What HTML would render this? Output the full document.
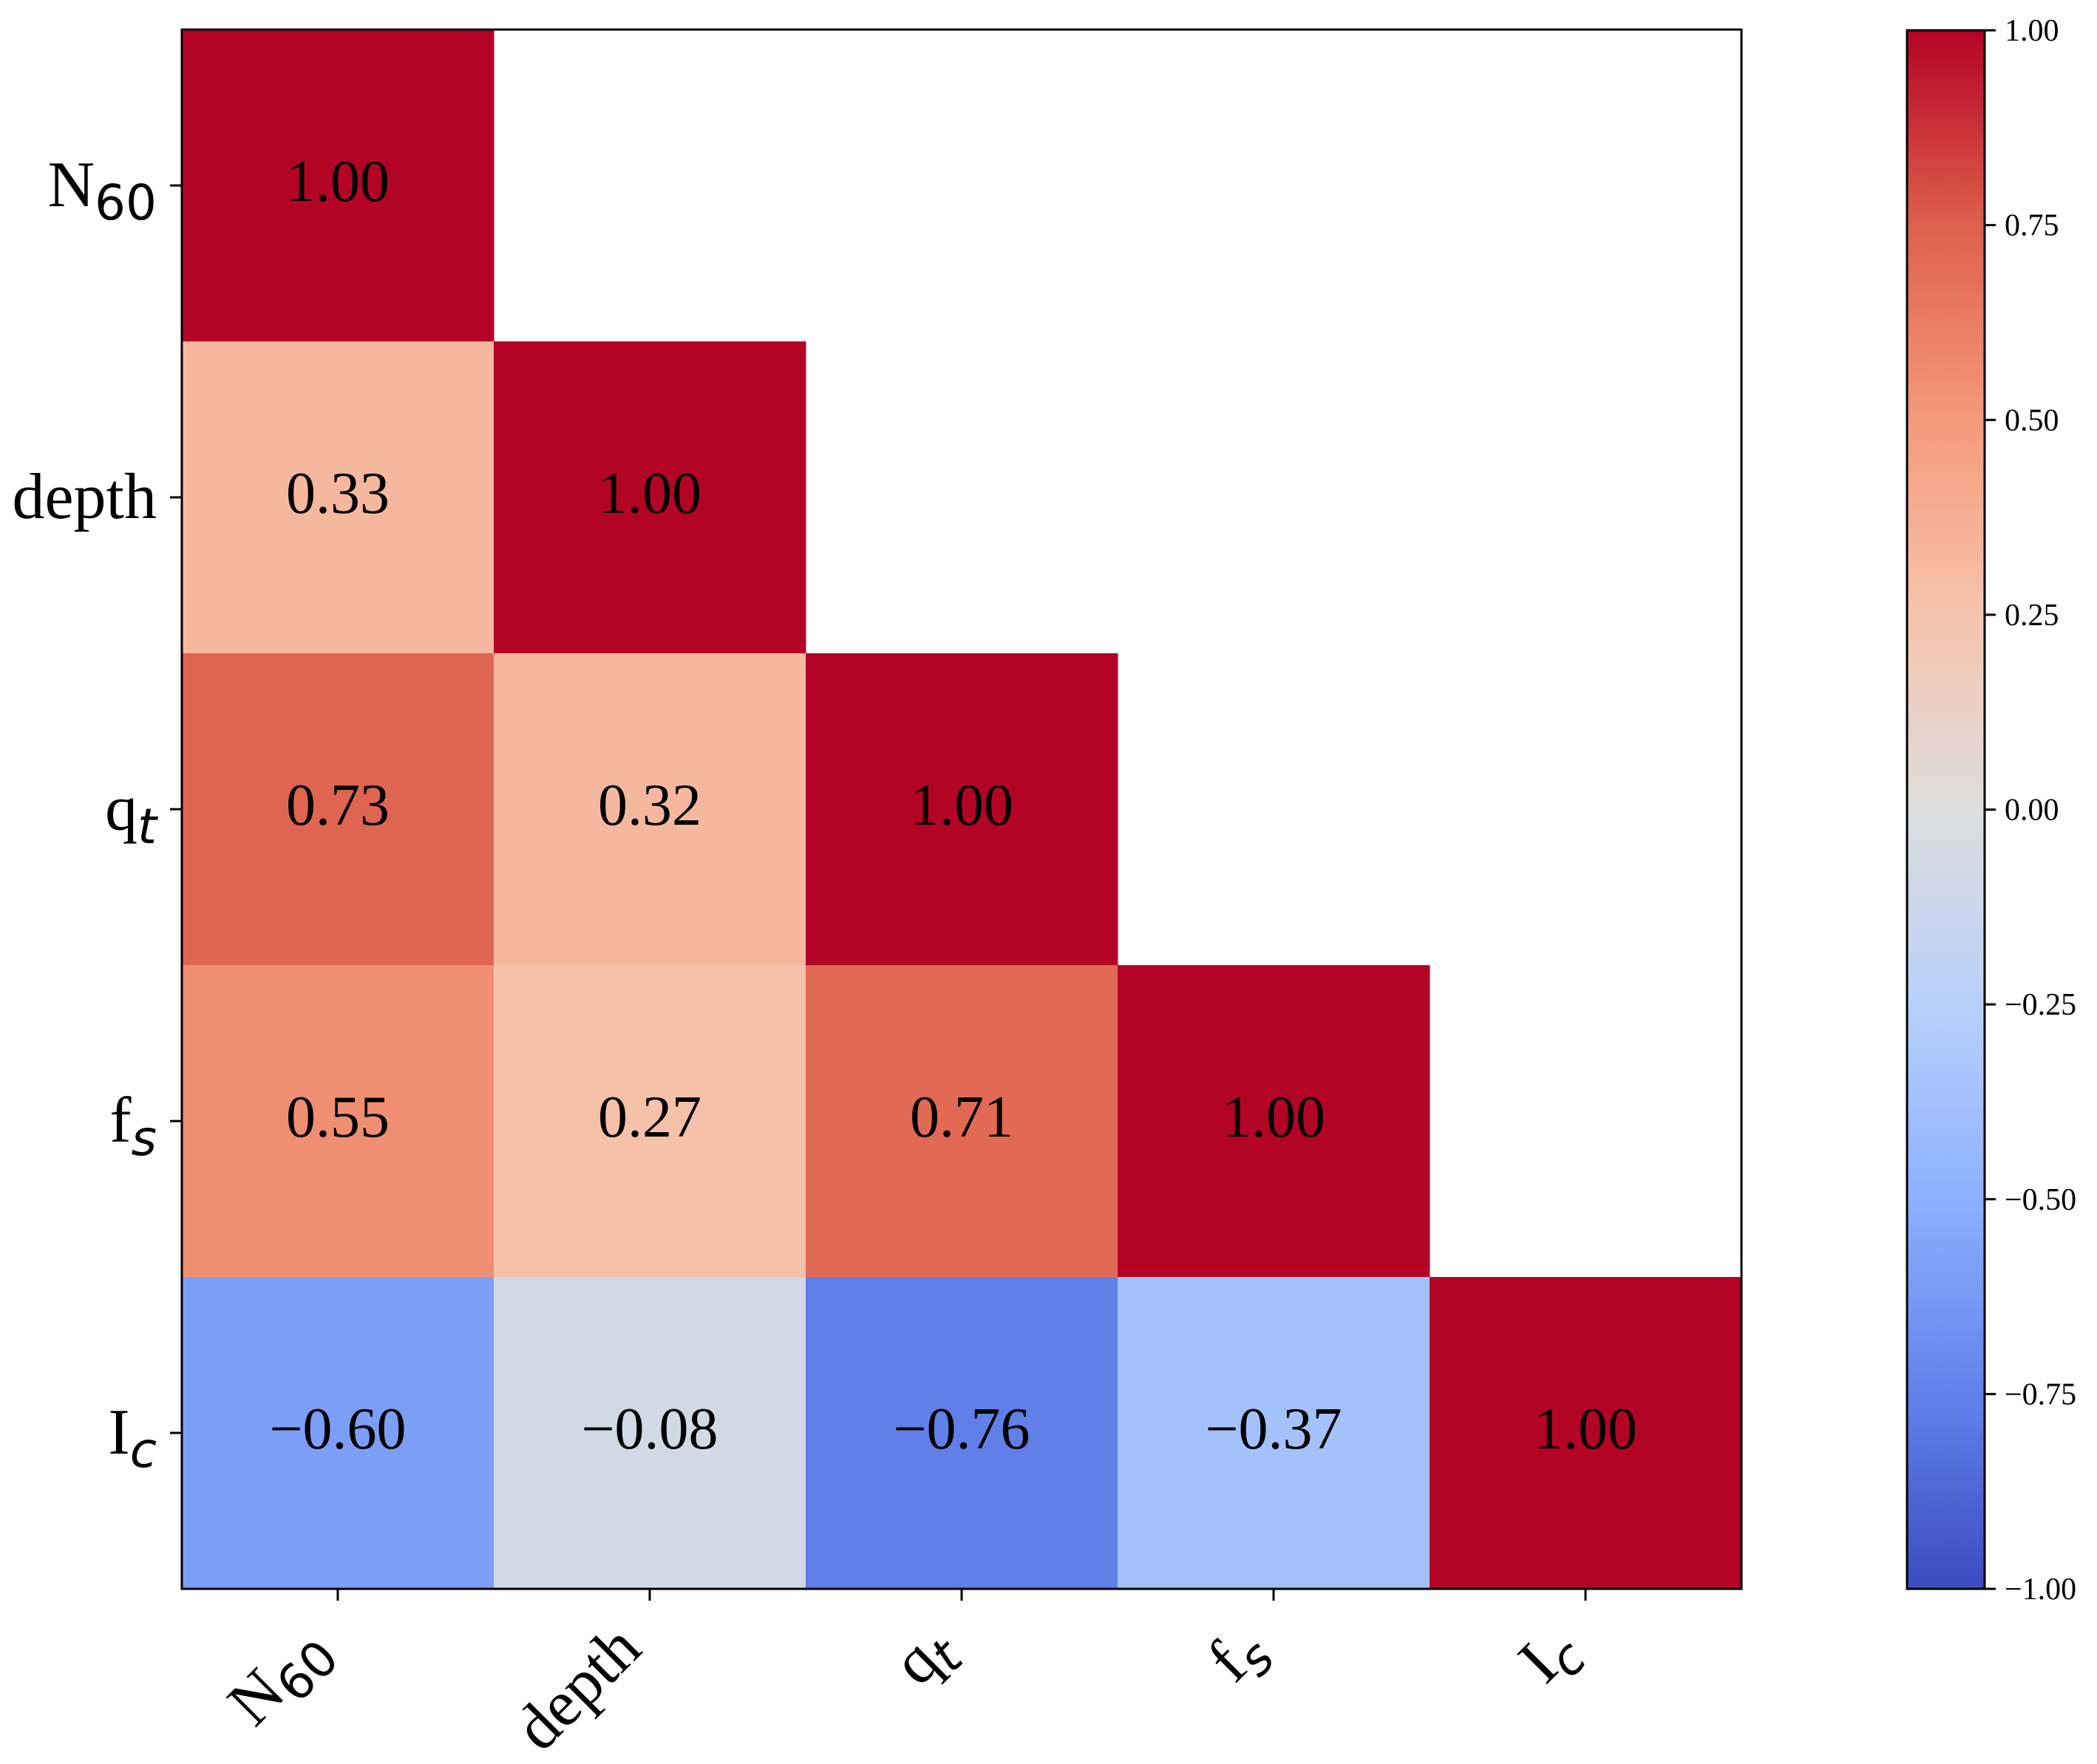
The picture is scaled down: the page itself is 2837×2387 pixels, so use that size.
<!DOCTYPE html>
<html><head><meta charset="utf-8"><style>
html,body{margin:0;padding:0;background:#fff;}
svg{display:block;}
text{font-family:"Liberation Serif",serif;fill:#000;}
</style></head><body>
<svg id="chart" width="2837" height="2387" viewBox="0 0 2837 2387" xmlns="http://www.w3.org/2000/svg">
<defs>
<linearGradient id="cbgrad" x1="0" y1="1" x2="0" y2="0">
<stop offset="0" stop-color="rgb(59,76,192)"/><stop offset="0.125" stop-color="rgb(98,130,234)"/>
<stop offset="0.25" stop-color="rgb(141,176,254)"/><stop offset="0.375" stop-color="rgb(184,208,249)"/>
<stop offset="0.5" stop-color="rgb(221,221,221)"/><stop offset="0.625" stop-color="rgb(245,196,173)"/>
<stop offset="0.75" stop-color="rgb(244,154,123)"/><stop offset="0.875" stop-color="rgb(222,96,77)"/>
<stop offset="1" stop-color="rgb(180,4,38)"/>
</linearGradient>
</defs>
<g id="cells"></g>
<g id="annots"></g>
<rect x="246" y="40" width="2110" height="2110" fill="none" stroke="#000" stroke-width="3"/>
<g id="yticks"></g>
<g id="xticks"></g>
<rect x="2580" y="41" width="105" height="2109" fill="url(#cbgrad)" stroke="#000" stroke-width="3"/>
<g id="cbticks"></g>
</svg>
<script>
const labels = [["N","60",false],["depth","",false],["q","t",true],["f","s",true],["I","c",true]];
const rowValues = [
  [1.00],
  [0.33, 1.00],
  [0.73, 0.32, 1.00],
  [0.55, 0.27, 0.71, 1.00],
  [-0.60, -0.08, -0.76, -0.37, 1.00]
];
const cbTicks = [1.00, 0.75, 0.50, 0.25, 0.00, -0.25, -0.50, -0.75, -1.00];

const NS = "http://www.w3.org/2000/svg";
const L = 246, T = 40, W = 2110, H = 2110, n = labels.length;
const cw = W / n, ch = H / n;
const xPos = i => L + i * cw;
const yPos = j => T + j * ch;
const cbTop = 41, cbBot = 2150;
const cbY = v => cbBot - (v + 1) / 2 * (cbBot - cbTop);
const stops = [[59,76,192],[98,130,234],[141,176,254],[184,208,249],[221,221,221],[245,196,173],[244,154,123],[222,96,77],[180,4,38]];
function cmap(v){
  let t = (v + 1) / 2 * 8; let i = Math.min(7, Math.floor(t)); let f = t - i;
  const a = stops[i], b = stops[i+1];
  return `rgb(${a.map((c,k)=>Math.round(c+(b[k]-c)*f)).join(',')})`;
}
function fmt(v){ return (v < 0 ? "\u2212" : "") + Math.abs(v).toFixed(2); }
function mk(tag, attrs, parent){
  const e = document.createElementNS(NS, tag);
  for (const k in attrs) e.setAttribute(k, attrs[k]);
  parent.appendChild(e); return e;
}
function addLabel(el, lab){
  const main = document.createElementNS(NS, "tspan"); main.textContent = lab[0]; el.appendChild(main);
  if (lab[1]) {
    const s = document.createElementNS(NS, "tspan");
    s.setAttribute("dy", "18");
    s.setAttribute("font-family", "DejaVu Sans, sans-serif");
    s.setAttribute("font-size", "66");
    if (lab[2]) s.setAttribute("font-style", "italic");
    s.textContent = lab[1]; el.appendChild(s);
  }
}
const gC = document.getElementById("cells"), gA = document.getElementById("annots");
rowValues.forEach((row, j) => row.forEach((v, i) => {
  const r = mk("rect", {x: xPos(i), y: yPos(j), width: cw + 0.5, height: ch + 0.5, fill: cmap(v)}, gC);
  
  
  const t = mk("text", {x: xPos(i) + cw/2, y: yPos(j) + ch/2 + 21, "text-anchor": "middle", "font-size": "80"}, gA);
  t.textContent = fmt(v);
  
  
}));
const gY = document.getElementById("yticks"), gX = document.getElementById("xticks");
labels.forEach((lab, k) => {
  const yc = yPos(k) + ch/2;
  mk("line", {x1: 230, x2: 246, y1: yc, y2: yc, stroke: "#000", "stroke-width": 3}, gY);
  const ty = mk("text", {x: 212, y: yc + 28, "text-anchor": "end", "font-size": "88"}, gY);
  addLabel(ty, lab);
  
  
  const xc = xPos(k) + cw/2;
  mk("line", {x1: xc, x2: xc, y1: 2150, y2: 2166, stroke: "#000", "stroke-width": 3}, gX);
  const ax = xc - 8, ay = 2235;
  const tx = mk("text", {x: ax, y: ay, "text-anchor": "end", "font-size": "88", transform: `rotate(-45 ${ax} ${ay})`}, gX);
  addLabel(tx, lab);
  
  
});
const gCB = document.getElementById("cbticks");
cbTicks.forEach(v => {
  const y = cbY(v);
  mk("line", {x1: 2685, x2: 2700, y1: y, y2: y, stroke: "#000", "stroke-width": 3}, gCB);
  const t = mk("text", {x: 2712, y: y + 14, "font-size": "42"}, gCB);
  t.textContent = fmt(v);
  
  
});
</script>
</body></html>
